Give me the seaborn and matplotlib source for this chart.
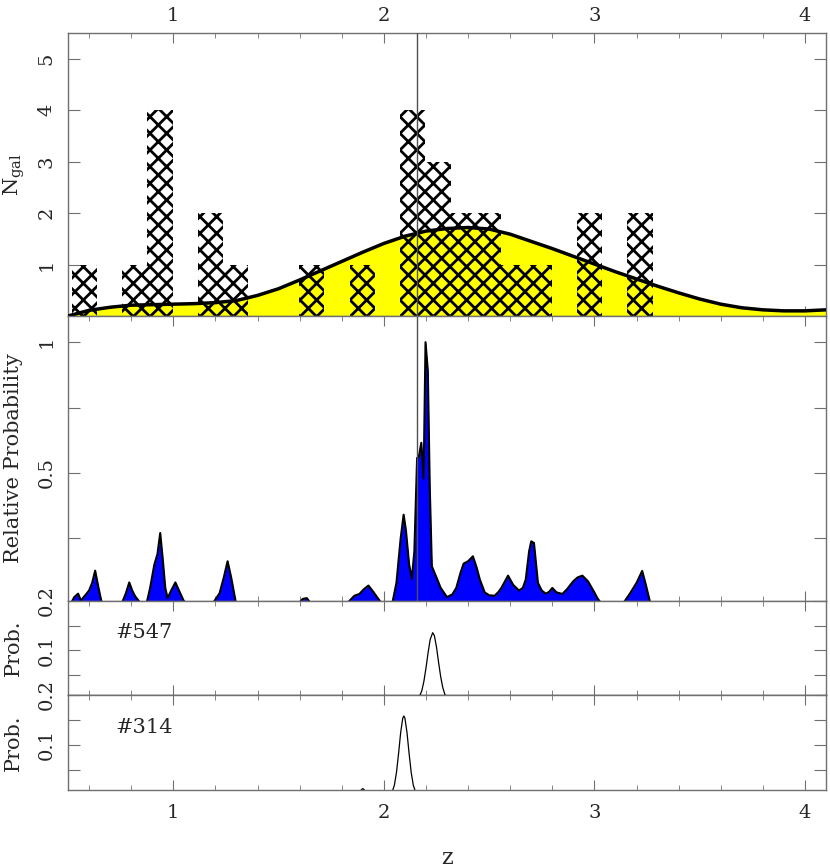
import numpy as np
import pandas as pd
import seaborn as sns
import matplotlib.pyplot as plt
from matplotlib.ticker import MultipleLocator, FormatStrFormatter

# histogram of galaxy redshifts (bin width 0.12, first edge 0.517)
hist_start = 0.517
hist_width = 0.12
ngal_counts = [1, 0, 1, 4, 0, 2, 1, 0, 0, 1, 0, 1, 0, 4, 3, 2, 2, 1, 1, 0, 2, 0, 2]

# smoothed selection curve (yellow)
sel_z = [0.5, 0.6, 0.7, 0.8, 0.9, 1.0, 1.1, 1.2, 1.3, 1.4, 1.5, 1.6, 1.7, 1.8, 1.9,
         2.0, 2.1, 2.2, 2.3, 2.4, 2.5, 2.6, 2.7, 2.8, 2.9, 3.0, 3.1, 3.2, 3.3, 3.4,
         3.5, 3.6, 3.7, 3.8, 3.9, 4.0, 4.1]
sel_n = [0.0, 0.11, 0.17, 0.21, 0.22, 0.23, 0.24, 0.26, 0.30, 0.40, 0.53, 0.70, 0.88,
         1.06, 1.24, 1.41, 1.55, 1.65, 1.70, 1.72, 1.69, 1.59, 1.45, 1.31, 1.16, 1.01,
         0.86, 0.72, 0.58, 0.45, 0.33, 0.23, 0.16, 0.12, 0.10, 0.10, 0.12]

# summed relative probability (blue)
rel_z = [0.5, 0.513, 0.53, 0.548, 0.561, 0.58, 0.60, 0.615, 0.629, 0.645, 0.661,
         0.755, 0.775, 0.791, 0.805, 0.819, 0.846,
         0.873, 0.89, 0.91, 0.925, 0.938, 0.95, 0.962, 0.973, 0.99, 1.01, 1.03, 1.05, 1.068,
         1.187, 1.22, 1.24, 1.258, 1.275, 1.298,
         1.594, 1.615, 1.634, 1.654,
         1.824, 1.86, 1.884, 1.905, 1.927, 1.95, 1.99,
         2.04, 2.06, 2.08, 2.094, 2.105, 2.12, 2.133, 2.145, 2.158, 2.166, 2.178, 2.189,
         2.198, 2.209, 2.218, 2.228, 2.25, 2.27, 2.30, 2.325, 2.344, 2.365, 2.379, 2.40,
         2.423, 2.44, 2.456, 2.479, 2.50, 2.526, 2.545, 2.558, 2.59, 2.614, 2.642, 2.66,
         2.674, 2.69, 2.70, 2.713, 2.732, 2.75, 2.769, 2.785, 2.80, 2.82, 2.848, 2.87,
         2.899, 2.92, 2.943, 2.97, 2.997, 3.015, 3.033,
         3.136, 3.17, 3.20, 3.227, 3.245, 3.266, 4.1]
rel_p = [0.0, 0.0, 0.025, 0.038, 0.012, 0.03, 0.05, 0.08, 0.126, 0.06, 0.0,
         0.0, 0.04, 0.081, 0.05, 0.028, 0.0,
         0.0, 0.06, 0.149, 0.19, 0.27, 0.17, 0.06, 0.021, 0.05, 0.081, 0.045, 0.01, 0.0,
         0.0, 0.04, 0.10, 0.162, 0.10, 0.0,
         0.0, 0.018, 0.021, 0.0,
         0.0, 0.03, 0.037, 0.055, 0.069, 0.045, 0.0,
         0.0, 0.08, 0.25, 0.34, 0.28, 0.15, 0.095, 0.2, 0.557, 0.56, 0.615, 0.478,
         1.0, 0.89, 0.45, 0.143, 0.10, 0.06, 0.025, 0.035, 0.06, 0.12, 0.153, 0.162,
         0.181, 0.14, 0.092, 0.043, 0.032, 0.030, 0.045, 0.06, 0.107, 0.072, 0.05, 0.06,
         0.092, 0.2, 0.238, 0.232, 0.079, 0.05, 0.038, 0.045, 0.06, 0.043, 0.037, 0.055,
         0.085, 0.10, 0.107, 0.085, 0.047, 0.02, 0.0,
         0.0, 0.04, 0.079, 0.125, 0.07, 0.0, 0.0]

# individual objects
p547_z = [0.5, 2.15, 2.16, 2.17, 2.18, 2.19, 2.20, 2.21, 2.22, 2.232, 2.24, 2.25,
          2.26, 2.27, 2.28, 2.29, 2.30, 2.31, 4.1]
p547_p = [0.0, 0.001, 0.003, 0.008, 0.018, 0.037, 0.064, 0.095, 0.122, 0.136, 0.130,
          0.107, 0.076, 0.047, 0.025, 0.011, 0.0045, 0.0015, 0.0]
p314_z = [0.5, 1.85, 1.88, 1.90, 1.92, 1.95, 2.03, 2.04, 2.05, 2.06, 2.07, 2.08, 2.09,
          2.095, 2.10, 2.11, 2.12, 2.13, 2.14, 2.15, 2.16, 4.1]
p314_p = [0.0, 0.0, 0.005, 0.013, 0.005, 0.0, 0.002, 0.007, 0.0195, 0.045, 0.083,
          0.125, 0.154, 0.158, 0.154, 0.125, 0.083, 0.045, 0.0195, 0.007, 0.002, 0.0]

z_mark = 2.156

sns.set_style("ticks")
plt.rcParams['font.family'] = ['DejaVu Serif']
plt.rcParams['mathtext.fontset'] = 'dejavuserif'
plt.rcParams['hatch.linewidth'] = 2.0

fig = plt.figure(figsize=(8.3, 8.68), dpi=100)
L, W = 68 / 830, 758 / 830
def panel(top, bottom):
    return fig.add_axes([L, 1 - bottom / 868, W, (bottom - top) / 868])
ax1 = panel(33, 316)
ax2 = panel(316, 601)
ax3 = panel(601, 695)
ax4 = panel(695, 790)
axes = [ax1, ax2, ax3, ax4]

grey = '#707070'

# top panel: histogram + selection curve
ax1.fill_between(sel_z, sel_n, color='yellow', lw=0, zorder=1)
centers = hist_start + hist_width * (np.arange(len(ngal_counts)) + 0.5)
hist_df = pd.DataFrame({'z': centers, 'n': ngal_counts})
sns.histplot(data=hist_df, x='z', weights='n', binwidth=hist_width,
             binrange=(hist_start, hist_start + hist_width * len(ngal_counts)), ax=ax1)
for bar in ax1.patches:
    bar.set_facecolor('none')
    bar.set_edgecolor('black')
    bar.set_linewidth(0)
    bar.set_hatch('xx')
    bar.set_zorder(2)
sns.lineplot(x=sel_z, y=sel_n, ax=ax1, color='black', linewidth=2.5,
             sort=False, estimator=None, zorder=3)
ax1.axvline(z_mark, color='#505050', lw=1, zorder=4)
ax1.set_ylim(0, 5.5)
ax1.set_yticks([1, 2, 3, 4, 5])
ax1.set_ylabel(r'N$_{\rm gal}$', fontsize=15)

# relative probability
ax2.fill_between(rel_z, rel_p, color='#0000ff', lw=0)
sns.lineplot(x=rel_z, y=rel_p, ax=ax2, color='black', linewidth=1.5,
             sort=False, estimator=None)
ax2.axvline(z_mark, color='#505050', lw=1)
ax2.set_ylim(0.01, 1.1)
ax2.set_yticks([0.25, 0.5, 0.75, 1.0])
ax2.set_yticklabels(['', '0.5', '', '1'])
ax2.set_ylabel('Relative Probability', fontsize=15)

# individual objects
for ax, zz, pp, name in [(ax3, p547_z, p547_p, '#547'), (ax4, p314_z, p314_p, '#314')]:
    sns.lineplot(x=zz, y=pp, ax=ax, color='black', linewidth=0.9,
                 sort=False, estimator=None)
    ax.set_ylim(0.01, 0.2)
    ax.set_yticks([0.05, 0.1, 0.15, 0.2])
    ax.set_yticklabels(['', '0.1', '', '0.2'])
    ax.set_ylabel('Prob.', fontsize=15)
    ax.text(0.063, 0.66, name, transform=ax.transAxes, fontsize=15,
            ha='left', va='center')

for ax in axes:
    ax.set_xlim(0.5, 4.1)
    ax.xaxis.set_major_locator(MultipleLocator(1))
    ax.xaxis.set_minor_locator(MultipleLocator(0.2))
    ax.xaxis.set_major_formatter(FormatStrFormatter('%d'))
    ax.tick_params(which='both', direction='in', top=True, bottom=True,
                   left=True, right=True, color=grey, labelsize=14)
    ax.tick_params(axis='x', which='major', length=7.5)
    ax.tick_params(axis='x', which='minor', length=3.8)
    ax.tick_params(axis='y', which='major', length=8.5, pad=9)
    ax.tick_params(axis='y', which='minor', left=False, right=False)
    ax.tick_params(axis='x', labelbottom=False, labeltop=False)
    for s in ax.spines.values():
        s.set_color(grey)
        s.set_linewidth(1)
    plt.setp(ax.get_yticklabels(), rotation=90, va='center')
    ax.yaxis.set_label_coords(-0.059, 0.5)
    ax.set_xlabel('')

ax1.yaxis.set_label_coords(-0.054, 0.5)
ax3.spines['bottom'].set_color('black')
ax1.tick_params(axis='x', labeltop=True, pad=6)
ax4.tick_params(axis='x', labelbottom=True, pad=10)
ax4.set_xlabel('z', fontsize=16)
ax4.xaxis.set_label_coords(0.5, -0.6)

fig.savefig('out.png', dpi=100)
